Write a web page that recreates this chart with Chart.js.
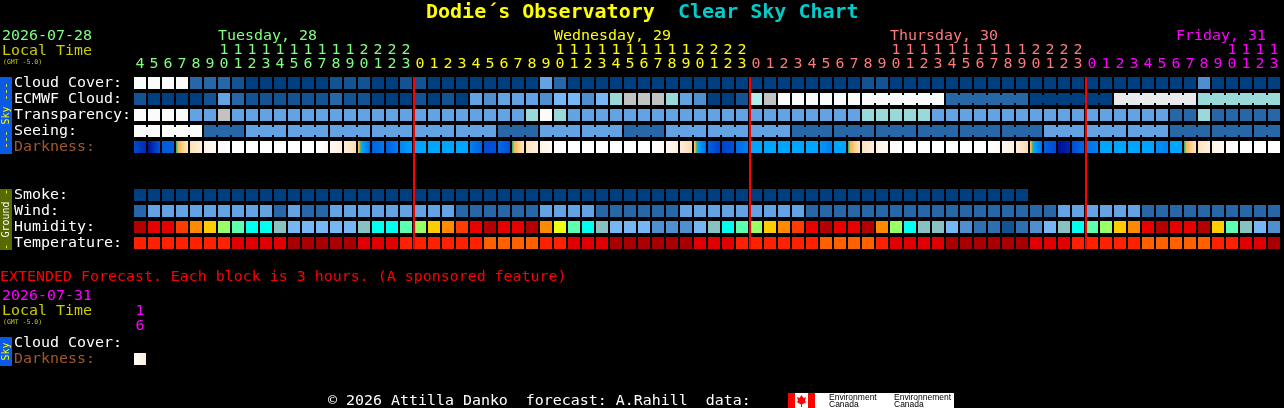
<!DOCTYPE html>
<html>
<head>
<meta charset="utf-8">
<title>Clear Sky Chart</title>
<script src="https://cdn.jsdelivr.net/npm/chart.js@4/dist/chart.umd.min.js"></script>
<style>
  html, body { margin: 0; padding: 0; background: #000; overflow: hidden; }
  canvas { display: block; }
</style>
</head>
<body>
<canvas id="skyChart" width="1284" height="408"></canvas>
<script>
// hours along the top, one per block
var hourLabels = [4,5,6,7,8,9,10,11,12,13,14,15,16,17,18,19,20,21,22,23,
  0,1,2,3,4,5,6,7,8,9,10,11,12,13,14,15,16,17,18,19,20,21,22,23,
  0,1,2,3,4,5,6,7,8,9,10,11,12,13,14,15,16,17,18,19,20,21,22,23,
  0,1,2,3,4,5,6,7,8,9,10,11,12,13];
var dayStarts = [0,20,44,68];
var dayNames = ["Tuesday, 28","Wednesday, 29","Thursday, 30","Friday, 31"];
var dayColors = ["#80ff80","#ffff00","#ff7a7a","#ff00ff"];
var extHours = ["1","6"];

var skyRowLabels = ["Cloud Cover:","ECMWF Cloud:","Transparency:","Seeing:","Darkness:"];
var groundRowLabels = ["Smoke:","Wind:","Humidity:","Temperature:"];
var extRowLabels = ["Cloud Cover:","Darkness:"];

// sky rows, value is a step of the blue to white scale
var cloudCover = [11,11,11,11,2,2,2,1,0,0,0,0,0,0,1,1,1,0,0,1,
  1,0,0,0,0,0,0,0,0,5,2,0,0,0,0,0,0,0,0,0,0,0,0,0,
  0,0,0,0,0,0,0,0,1,1,0,0,0,0,0,0,0,0,0,0,0,0,0,0,
  0,0,0,0,0,0,0,0,4,0,0,0,0,0];
var ecmwfCloud = [1,0,0,0,0,1,5,2,1,1,1,1,1,1,2,1,1,0,0,0,
  1,0,1,0,5,4,5,5,5,4,6,6,4,6,7,9,9,9,7,5,4,0,0,1,
  8,9,11,11,11,11,11,11,11,11,11,11,11,11,2,2,2,2,2,2,0,0,0,0,
  0,0,10,10,10,10,10,10,7,7,7,7,7,7];
var transparency = [11,11,11,11,5,5,9,5,5,5,5,5,5,5,5,5,5,5,5,5,
  5,5,5,5,5,5,5,5,7,11,7,5,5,5,5,5,5,5,5,5,5,5,5,5,
  5,5,5,5,5,5,5,5,7,7,7,7,7,5,5,5,5,5,5,5,5,5,5,5,
  5,5,5,5,5,5,2,2,7,2,2,2,2,2];
var seeing = [11,11,11,11,11,2,2,2,5,5,5,5,5,5,5,5,5,5,5,5,
  5,5,5,5,5,5,2,2,2,5,5,5,5,5,5,2,2,2,5,5,5,5,5,5,
  5,5,5,2,2,2,2,2,2,2,2,2,2,2,2,2,2,2,2,2,2,5,5,5,
  5,5,5,5,5,5,2,2,2,2,2,2,2,2];

// darkness, left and right end of each block: 0 full sun, 7 deep night
var darkStart = [5.6,6.8,5.3,3.35,1.9,1.1,0.4,0,0,0,0,0,0,0,0.6,1.3,2.8,5.2,5.2,4.4,
  3.6,3.6,3.6,3.6,4.6,5.6,5.0,3.35,1.8,1.1,0.4,0,0,0,0,0,0,0,0.6,1.3,2.8,5.2,5.8,5.0,
  3.6,3.6,3.6,3.6,3.6,4.0,3.6,3.35,1.8,1.1,0.4,0,0,0,0,0,0,0,0.6,1.3,2.8,5.2,6.8,5.6,
  4.8,3.6,3.6,3.6,3.6,4.2,3.6,3.35,1.8,1.1,0.4,0,0,0];
var darkEnd = [6.3,5.4,5.2,1.7,1.2,0.5,0.1,0,0,0,0,0,0,0.6,1.2,2.0,5.0,4.7,4.6,3.8,
  3.6,3.6,3.6,3.6,5.2,5.5,5.5,1.7,1.2,0.5,0.1,0,0,0,0,0,0,0.5,1.2,2.1,5.0,5.8,5.5,4.6,
  3.6,3.6,3.6,3.6,3.6,4.6,3.6,1.7,1.2,0.5,0.1,0,0,0,0,0,0,0.5,1.2,2.1,5.0,5.6,6.4,5.0,
  4.6,3.6,3.6,3.6,3.6,4.5,3.6,1.7,1.2,0.5,0.1,0,0,0];

// ground rows
var smoke = [0,0,0,0,0,0,0,0,0,0,0,0,0,0,0,0,0,0,0,0,
  0,0,0,0,0,0,0,0,0,0,0,0,0,0,0,0,0,0,0,0,0,0,0,0,
  0,0,0,0,0,0,0,0,0,0,0,0,0,0,0,0,0,0,0,0];
var wind = [2,5,5,5,5,5,5,5,5,5,2,5,2,2,5,5,5,5,5,5,
  5,5,5,2,2,2,2,2,2,5,5,5,5,2,2,2,2,2,2,5,5,5,5,5,
  5,5,5,5,2,2,2,2,2,2,2,2,2,2,2,2,2,2,2,2,2,2,5,5,
  5,5,5,5,2,2,2,2,2,2,2,2,2,2];
var humidity = [95,90,90,85,80,75,65,60,55,55,50,45,45,45,45,45,50,55,55,60,
  65,75,80,85,90,95,90,90,95,80,70,60,55,50,45,45,45,40,40,40,45,50,55,60,
  65,75,80,85,90,95,90,90,95,80,65,55,50,50,45,40,35,35,30,35,40,45,50,55,
  60,65,75,80,90,95,90,90,95,75,60,50,45,40];
var temperature = [24,24,24,24,24,24,24,20,20,20,20,18,18,18,18,18,20,20,20,24,
  24,24,24,24,24,27,27,27,27,24,24,20,20,20,18,18,18,18,18,18,20,20,20,24,
  24,24,24,24,24,27,27,27,27,24,20,20,20,20,18,18,18,18,18,18,20,20,20,24,
  24,24,24,24,27,27,27,27,27,24,24,20,20,18];

var extDarkStart = [0];
var extDarkEnd = [1.4];

var dayBreaks = [20,44,68];

// colour scales
var bluePalette = ["#003f7f","#135393","#2767a7","#3b7bbb","#4f8fcf","#63a3e3","#77b7f7","#99d9d9","#adeded","#c2c2c2","#eaeaea","#fbfbfb"];
var humidityColors = {30:"#135393",35:"#2f6fb0",40:"#4f8fcf",45:"#76b6f5",50:"#87c1c1",55:"#00ffee",60:"#5cffb0",65:"#99ff66",70:"#eeff11",75:"#ffcc00",80:"#ff8a00",85:"#ff3c00",90:"#e60000",95:"#b30000"};
var temperatureColors = {18:"#a80000",20:"#e00000",24:"#ff2000",27:"#ff6000"};
var darkStops = [[0,[255,255,255]],[1,[255,243,230]],[2,[253,222,180]],[3,[248,184,78]],[3.3,[63,176,122]],[3.6,[0,165,255]],[4.6,[0,128,240]],[5.5,[0,80,216]],[6.5,[0,32,168]],[7,[0,0,136]]];

var monoFont = "'DejaVu Sans Mono', monospace";
var rowPos = {cloud:0, ecmwf:1, transparency:2, seeing:3, darkness:4, smoke:7, wind:8, humidity:9, temperature:10, extCloud:16.25, extDark:17.25};
var halfCell = 6/14;
var halfRow = 6/16;

function darkColor(d){
  for(var i=1;i<darkStops.length;i++){
    if(d<=darkStops[i][0]){
      var a=darkStops[i-1], b=darkStops[i];
      var t=(d-a[0])/(b[0]-a[0]);
      return "rgb("+[0,1,2].map(function(k){return Math.round(a[1][k]+(b[1][k]-a[1][k])*t);}).join(",")+")";
    }
  }
  return "rgb(0,0,136)";
}

function darkFill(chart, col, from, to){
  var xs=chart.scales.x;
  var x0=xs ? xs.getPixelForValue(col-halfCell) : NaN;
  var x1=xs ? xs.getPixelForValue(col+halfCell) : NaN;
  // scales are not laid out yet on the first pass
  if(!isFinite(x0) || !isFinite(x1)){ return darkColor(from); }
  var g=chart.ctx.createLinearGradient(x0,0,x1,0);
  g.addColorStop(0,darkColor(from));
  g.addColorStop(1,darkColor(to));
  if(from!==to){
    for(var i=0;i<darkStops.length;i++){
      var t=(darkStops[i][0]-from)/(to-from);
      if(t>0 && t<1){ g.addColorStop(t,darkColor(darkStops[i][0])); }
    }
  }
  return g;
}

function blockRow(row, values, colorOf){
  var data=[], colors=[];
  for(var c=0;c<values.length;c++){
    data.push({x:[c-halfCell,c+halfCell], y:row});
    colors.push(colorOf(values[c]));
  }
  return {data:data, backgroundColor:colors, barThickness:12};
}

// the thin joins between blocks that come from one forecast period
function joinRow(row, values, isJoined){
  var data=[], colors=[];
  for(var c=0;c<values.length-1;c++){
    if(isJoined(c)){
      data.push({x:[c+halfCell,c+1-halfCell], y:row});
      colors.push(bluePalette[values[c]]);
    }
  }
  return {data:data, backgroundColor:colors, barThickness:8};
}

function darkRow(row, starts, ends){
  var data=[];
  for(var c=0;c<starts.length;c++){
    data.push({x:[c-halfCell,c+halfCell], y:row});
  }
  return {
    data:data,
    barThickness:12,
    backgroundColor:function(ctx){
      if(ctx.dataIndex===undefined){ return "#000"; }
      return darkFill(ctx.chart, ctx.dataIndex, starts[ctx.dataIndex], ends[ctx.dataIndex]);
    }
  };
}

function blue(v){ return bluePalette[v]; }

var datasets = [
  blockRow(rowPos.cloud, cloudCover, blue),
  blockRow(rowPos.ecmwf, ecmwfCloud, blue),
  joinRow(rowPos.ecmwf, ecmwfCloud, function(c){ return c>=52 && (c-52)%6!==5; }),
  blockRow(rowPos.transparency, transparency, blue),
  blockRow(rowPos.seeing, seeing, blue),
  joinRow(rowPos.seeing, seeing, function(c){ return (c-1)%3!==0; }),
  darkRow(rowPos.darkness, darkStart, darkEnd),
  blockRow(rowPos.smoke, smoke, blue),
  blockRow(rowPos.wind, wind, blue),
  blockRow(rowPos.humidity, humidity, function(v){ return humidityColors[v]; }),
  blockRow(rowPos.temperature, temperature, function(v){ return temperatureColors[v]; }),
  darkRow(rowPos.extDark, extDarkStart, extDarkEnd)
];

var yTicks = [
  {p:rowPos.cloud, label:skyRowLabels[0], color:"#ffffff"},
  {p:rowPos.ecmwf, label:skyRowLabels[1], color:"#ffffff"},
  {p:rowPos.transparency, label:skyRowLabels[2], color:"#ffffff"},
  {p:rowPos.seeing, label:skyRowLabels[3], color:"#ffffff"},
  {p:rowPos.darkness, label:skyRowLabels[4], color:"#a0582c"},
  {p:rowPos.smoke, label:groundRowLabels[0], color:"#ffffff"},
  {p:rowPos.wind, label:groundRowLabels[1], color:"#ffffff"},
  {p:rowPos.humidity, label:groundRowLabels[2], color:"#ffffff"},
  {p:rowPos.temperature, label:groundRowLabels[3], color:"#ffffff"},
  {p:rowPos.extCloud, label:extRowLabels[0], color:"#ffffff"},
  {p:rowPos.extDark, label:extRowLabels[1], color:"#a0582c"}
];

function dayColorOf(col){
  var d=0;
  for(var i=0;i<dayStarts.length;i++){ if(col>=dayStarts[i]){ d=i; } }
  return dayColors[d];
}

function text(ctx, str, x, y, color, font){
  ctx.fillStyle=color;
  ctx.font=font;
  ctx.textAlign="left";
  ctx.textBaseline="alphabetic";
  ctx.fillText(str,x,y);
}

function sideText(ctx, str, cx, cy, color){
  ctx.save();
  ctx.translate(cx,cy);
  ctx.rotate(-Math.PI/2);
  ctx.fillStyle=color;
  ctx.font="10px "+monoFont;
  ctx.textAlign="center";
  ctx.textBaseline="middle";
  ctx.fillText(str,0,0);
  ctx.restore();
}

function drawLogo(ctx){
  ctx.fillStyle="#ffffff";
  ctx.fillRect(788,393,166,15);
  ctx.fillStyle="#ff0000";
  ctx.fillRect(788,393,7,15);
  ctx.fillRect(808,393,7,15);
  ctx.beginPath();
  ctx.moveTo(801.5,395);ctx.lineTo(803.5,398);ctx.lineTo(806,397);ctx.lineTo(805,401);ctx.lineTo(806.5,402);
  ctx.lineTo(802,404.5);ctx.lineTo(802,407);ctx.lineTo(801,407);ctx.lineTo(801,404.5);
  ctx.lineTo(796.5,402);ctx.lineTo(798,401);ctx.lineTo(797,397);ctx.lineTo(799.5,398);
  ctx.closePath();
  ctx.fill();
  text(ctx,"Environment",829,400,"#000000","8.5px 'Liberation Sans', sans-serif");
  text(ctx,"Canada",829,407,"#000000","8.5px 'Liberation Sans', sans-serif");
  text(ctx,"Environnement",894,400,"#000000","8.5px 'Liberation Sans', sans-serif");
  text(ctx,"Canada",894,407,"#000000","8.5px 'Liberation Sans', sans-serif");
}

var pageTextPlugin = {
  id:"pageText",
  beforeDraw:function(chart){
    var ctx=chart.ctx;
    var f=chart.scales.x;
    ctx.save();
    ctx.fillStyle="#000";
    ctx.fillRect(0,0,chart.width,chart.height);

    text(ctx,"Dodie\u00b4s Observatory",426,18,"#ffff00","bold 20px "+monoFont);
    text(ctx,"Clear Sky Chart",678,18,"#00cccc","bold 20px "+monoFont);

    var mono="14.95px "+monoFont;
    text(ctx,"2026-07-28",2,40,dayColors[0],mono);
    text(ctx,dayNames[0],218,40,dayColors[0],mono);
    text(ctx,dayNames[1],554,40,dayColors[1],mono);
    text(ctx,dayNames[2],890,40,dayColors[2],mono);
    text(ctx,dayNames[3],1176,40,dayColors[3],mono);
    text(ctx,"Local Time",2,55,"#cccc00",mono);
    text(ctx,"(GMT -5.0)",3,64,"#cccc00","6.5px "+monoFont);

    text(ctx,"EXTENDED Forecast. Each block is 3 hours. (A sponsored feature)",0,281,"#ff0000",mono);
    text(ctx,"2026-07-31",2,300,"#ff00ff",mono);
    text(ctx,"Local Time",2,315,"#cccc00",mono);
    text(ctx,"(GMT -5.0)",3,324,"#cccc00","6.5px "+monoFont);
    text(ctx,extHours[0],f.getPixelForValue(0)-4.5,315,"#ff00ff",mono);
    text(ctx,extHours[1],f.getPixelForValue(0)-4.5,330,"#ff00ff",mono);

    text(ctx,"\u00a9 2026 Attilla Danko  forecast: A.Rahill  data:",328,405,"#ffffff",mono);
    drawLogo(ctx);

    // side tabs
    ctx.fillStyle="#0a5ae6";
    ctx.fillRect(0,77,12,77);
    ctx.fillRect(0,337,12,29);
    ctx.fillStyle="#556b00";
    ctx.fillRect(0,189,12,61);
    sideText(ctx,"--- Sky ---",6,115.5,"#ffff00");
    sideText(ctx,"Sky",6,351.5,"#ffff00");
    sideText(ctx,"Ground",6,219.5,"#ffffff");
    sideText(ctx,"-",6,192,"#ffff00");
    sideText(ctx,"-",6,247,"#ffff00");
    ctx.restore();
  },
  afterDatasetsDraw:function(chart){
    var ctx=chart.ctx;
    var top=chart.scales.y.getPixelForValue(rowPos.cloud-halfRow);
    var bottom=chart.scales.y.getPixelForValue(rowPos.temperature+halfRow);
    ctx.save();
    ctx.fillStyle="#ff0000";
    for(var i=0;i<dayBreaks.length;i++){
      ctx.fillRect(chart.scales.x.getPixelForValue(dayBreaks[i]-0.5),top,2,bottom-top);
    }
    ctx.restore();
  }
};

function load(){
  new Chart(document.getElementById("skyChart").getContext("2d"), {
    type:"bar",
    data:{datasets:datasets},
    plugins:[pageTextPlugin],
    options:{
      indexAxis:"y",
      responsive:false,
      animation:false,
      devicePixelRatio:1,
      events:[],
      layout:{padding:{left:14,right:3,top:0,bottom:0}},
      datasets:{bar:{grouped:false, inflateAmount:0, borderWidth:0}},
      plugins:{legend:{display:false},tooltip:{enabled:false},title:{display:false}},
      scales:{
        x:{
          type:"linear",
          position:"top",
          offset:false,
          min:-0.5,
          max:81.5,
          grid:{display:false,drawTicks:false},
          border:{display:false},
          afterFit:function(s){ s.height=72; s.paddingLeft=0; s.paddingRight=0; },
          afterBuildTicks:function(s){
            s.ticks=hourLabels.map(function(h,i){ return {value:i}; });
          },
          ticks:{
            autoSkip:false,
            maxRotation:0,
            minRotation:0,
            padding:1,
            font:{family:monoFont,size:14.95,lineHeight:"14px"},
            color:function(ctx){ return dayColorOf(ctx.index); },
            callback:function(v,i){
              var h=hourLabels[i];
              return h>=10 ? [String(Math.floor(h/10)),String(h%10)] : ["",String(h)];
            }
          }
        },
        y:{
          type:"linear",
          reverse:true,
          offset:false,
          min:-11/16,
          max:-11/16+21,
          grid:{display:false,drawTicks:false},
          border:{display:false},
          afterFit:function(s){ s.width=119; s.paddingTop=0; s.paddingBottom=0; },
          afterBuildTicks:function(s){
            s.ticks=yTicks.map(function(t){ return {value:t.p}; });
          },
          ticks:{
            autoSkip:false,
            crossAlign:"far",
            padding:0,
            font:{family:monoFont,size:14.95},
            color:function(ctx){ return yTicks[ctx.index].color; },
            callback:function(v,i){ return yTicks[i].label; }
          }
        }
      }
    }
  });
}

document.addEventListener("DOMContentLoaded", load, false);
</script>
</body>
</html>
